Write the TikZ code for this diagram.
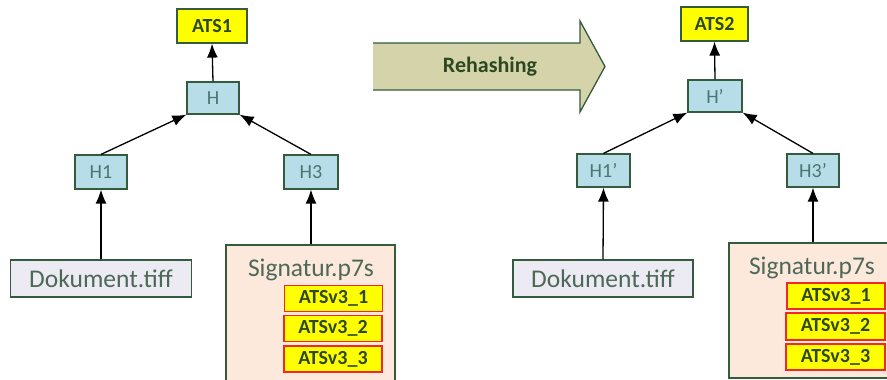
\documentclass[tikz,border=0pt]{standalone}
\usepackage{fontspec}
\setmainfont{Carlito}
\usetikzlibrary{arrows.meta}
\definecolor{edgegreen}{RGB}{52,92,60}
\definecolor{hashblue}{RGB}{183,221,232}
\definecolor{hashtext}{RGB}{74,118,112}
\definecolor{doctext}{RGB}{78,104,88}
\definecolor{boldtext}{RGB}{44,72,32}
\definecolor{docfill}{RGB}{236,234,242}
\definecolor{sigfill}{RGB}{252,233,220}
\definecolor{tsyellow}{RGB}{255,255,0}
\definecolor{tsred}{RGB}{240,40,40}
\definecolor{bandtan}{RGB}{212,211,170}
\tikzset{
  hashbox/.style={draw=edgegreen, fill=hashblue, line width=1.2pt, inner sep=0pt,
    text=hashtext, font=\fontsize{20}{22}\selectfont},
  tsbox/.style={draw=edgegreen, fill=tsyellow, line width=1.2pt, inner sep=0pt,
    text=boldtext, font=\fontsize{20}{22}\selectfont\bfseries},
  v3box/.style={draw=tsred, fill=tsyellow, line width=1.2pt, inner sep=0pt,
    minimum width=98pt, minimum height=26pt,
    text=boldtext, font=\fontsize{20}{22}\selectfont\bfseries},
  docbox/.style={draw=edgegreen, fill=docfill, line width=1.2pt, inner sep=0pt,
    minimum width=181pt, minimum height=37pt,
    text=doctext, font=\fontsize{25.5}{27}\selectfont},
  sigbox/.style={draw=edgegreen, fill=sigfill, line width=1.2pt, inner sep=0pt},
  sigtext/.style={inner sep=0pt, text=doctext, font=\fontsize{25.5}{27}\selectfont},
  link/.style={line width=1.3pt, -{Latex[length=14pt,width=11pt]}}
}
\begin{document}
\begin{tikzpicture}[x=1pt,y=-1pt]
\useasboundingbox (0,0) rectangle (887,380);
\fill[white] (0,0) rectangle (887,380);
\clip (0,0) rectangle (887,380);

% ---- hash tree before rehashing ----
\node[tsbox, minimum width=70pt, minimum height=34pt] (ats1) at (212,26) {ATS1};
\node[hashbox, minimum width=52pt, minimum height=32pt] (h) at (213,98) {H};
\node[hashbox, minimum width=52pt, minimum height=34pt] (h1) at (101,172) {H1};
\node[hashbox, minimum width=54pt, minimum height=34pt] (h3) at (311,172) {H3};
\node[docbox] (doc) at (101,278.5) {Dokument.tiff};
\node[sigbox, minimum width=169pt, minimum height=142pt] (sig) at (310.5,316) {};
\node[sigtext] (sigl) at (311,270) {Signatur.p7s};
\node[v3box] (a11) at (333.5,298.5) {ATSv3\_1};
\node[v3box] (a12) at (333,328.5) {ATSv3\_2};
\node[v3box] (a13) at (333,359) {ATSv3\_3};

\draw[link] (doc.north) -- (h1.south);
\draw[link] (sig.north -| h3.south) -- (h3.south);
\draw[link] (h1.north) -- (h.south west);
\draw[link] (h3.north) -- (h.south east);
\draw[link] (h.north) -- (ats1.south);

% ---- rehashing arrow ----
\fill[bandtan] (373,43) -- (580,43) -- (580,21) -- (605,66.5) -- (580,112) -- (580,90) -- (373,90) -- cycle;
\draw[edgegreen, line width=1.3pt, line join=miter]
  (373,43) -- (580,43) -- (580,21) -- (605,66.5) -- (580,112) -- (580,90) -- (373,90);
\node[text=boldtext, font=\fontsize{22}{24}\selectfont\bfseries] (rehash) at (490,67) {Rehashing};

% ---- hash tree after rehashing ----
\node[tsbox, minimum width=67pt, minimum height=34pt] (ats2) at (714.5,24) {ATS2};
\node[hashbox, minimum width=54pt, minimum height=32pt] (hp) at (715,96) {H’};
\node[hashbox, minimum width=53pt, minimum height=33pt] (h1p) at (603.5,170.5) {H1’};
\node[hashbox, minimum width=52pt, minimum height=33pt] (h3p) at (813,170.5) {H3’};
\node[docbox, minimum width=180pt] (docp) at (603,278.5) {Dokument.tiff};
\node[sigbox, minimum width=163pt, minimum height=135pt] (sigp) at (810.5,310.5) {};
\node[sigtext] (sigpl) at (812,268) {Signatur.p7s};
\node[v3box] (a21) at (836,296) {ATSv3\_1};
\node[v3box, minimum width=99pt, minimum height=27pt] (a22) at (835.5,326.5) {ATSv3\_2};
\node[v3box, minimum width=99pt] (a23) at (835.5,357) {ATSv3\_3};

\draw[link] (docp.north) -- (h1p.south);
\draw[link] (sigp.north -| h3p.south) -- (h3p.south);
\draw[link] (h1p.north) -- (hp.south west);
\draw[link] (h3p.north) -- (hp.south east);
\draw[link] (hp.north) -- (ats2.south);
\end{tikzpicture}
\end{document}
